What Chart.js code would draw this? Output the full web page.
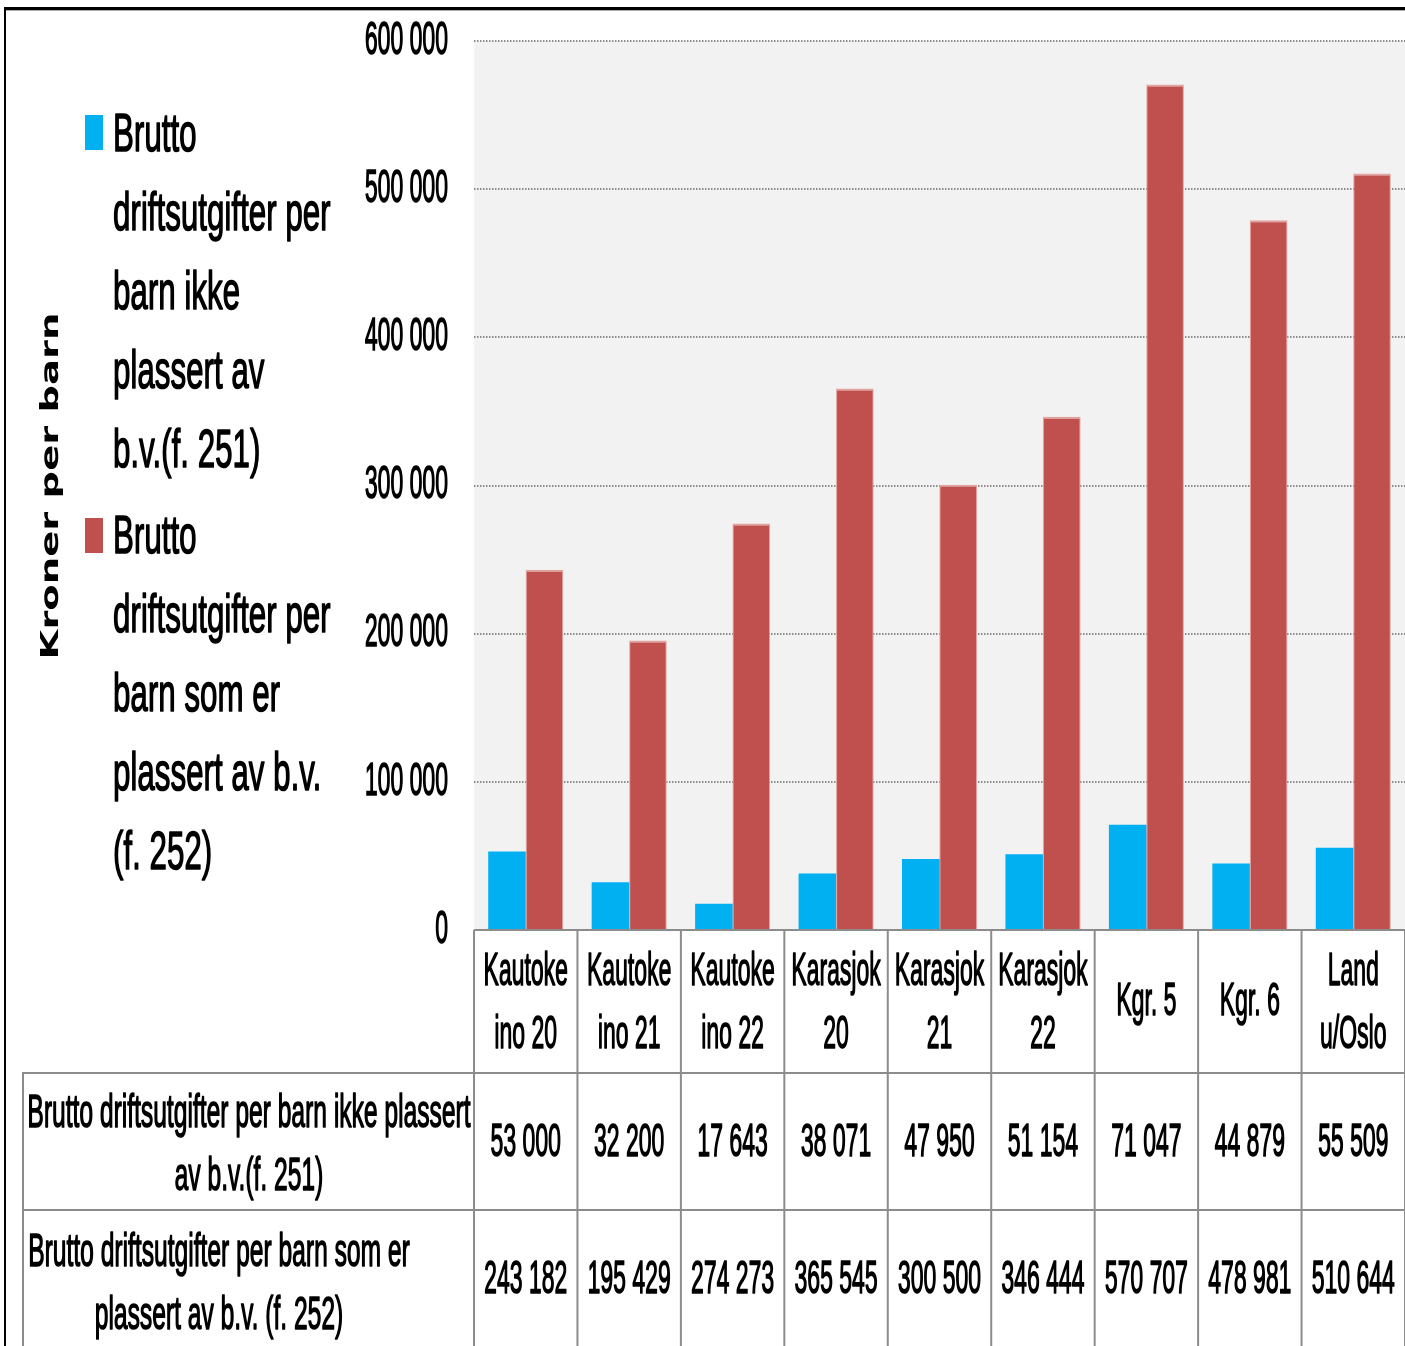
<!DOCTYPE html>
<html>
<head>
<meta charset="utf-8">
<script src="https://cdn.jsdelivr.net/npm/chart.js@4"></script>
<style>
html, body { margin: 0; padding: 0; background: #fff; overflow: hidden; }
/* the original chart is squeezed horizontally, so draw it twice as wide and scale it down */
#wrap { width: 2810px; height: 1346px; transform: scaleX(0.5); transform-origin: 0 0; }
</style>
</head>
<body>
<div id="wrap"><canvas id="chart" width="2810" height="1346"></canvas></div>
<script>
const categories = [
    ["Kautoke", "ino 20"], ["Kautoke", "ino 21"], ["Kautoke", "ino 22"],
    ["Karasjok", "20"], ["Karasjok", "21"], ["Karasjok", "22"],
    ["Kgr. 5"], ["Kgr. 6"], ["Land", "u/Oslo"]
];
const ikkePlassert = [53000, 32200, 17643, 38071, 47950, 51154, 71047, 44879, 55509];
const plassert = [243182, 195429, 274273, 365545, 300500, 346444, 570707, 478981, 510644];
const yTicks = [0, 100000, 200000, 300000, 400000, 500000, 600000];

const seriesNames = [
    "Brutto driftsutgifter per barn ikke plassert av b.v.(f. 251)",
    "Brutto driftsutgifter per barn som er plassert av b.v. (f. 252)"
];
const legendLines = [
    ["Brutto", "driftsutgifter per", "barn ikke", "plassert av", "b.v.(f. 251)"],
    ["Brutto", "driftsutgifter per", "barn som er", "plassert av b.v.", "(f. 252)"]
];
const rowHeaders = [
    ["Brutto driftsutgifter per barn ikke plassert", "av b.v.(f. 251)"],
    ["Brutto driftsutgifter per barn som er", "plassert av b.v. (f. 252)"]
];
const colors = ["#00b0f0", "#c0504d"];
const yTitle = "Kroner per barn";

const FONT = "'Liberation Sans', Arial, sans-serif";
const STROKE = 1.5; // text looks heavier in the original

function fmt(v) {
    return String(v).replace(/\B(?=(\d{3})+(?!\d))/g, " ");
}

function txt(ctx, s, x, y, size, align, sx) {
    ctx.save();
    ctx.translate(x, y);
    ctx.scale(sx || 1, 1);
    ctx.font = size + "px " + FONT;
    ctx.textAlign = align;
    ctx.textBaseline = "alphabetic";
    ctx.fillStyle = "#000";
    ctx.strokeStyle = "#000";
    ctx.lineWidth = STROKE;
    ctx.lineJoin = "round";
    ctx.strokeText(s, 0, 0);
    ctx.fillText(s, 0, 0);
    ctx.restore();
}

// grey plot background
const plotBg = {
    id: "plotBg",
    beforeDraw(chart) {
        const { ctx, chartArea: a } = chart;
        ctx.save();
        ctx.fillStyle = "#f2f2f2";
        ctx.fillRect(a.left, a.top, a.right - a.left, a.bottom - a.top);
        ctx.restore();
    }
};

// legend, axis title, data table and frame
const extras = {
    id: "extras",
    afterDraw(chart) {
        const { ctx, chartArea: a } = chart;
        const xs = chart.scales.x;
        const H = chart.height;

        // legend
        const tops = [115, 518];
        const bases = [151, 553];
        legendLines.forEach((lines, k) => {
            ctx.fillStyle = colors[k];
            ctx.fillRect(170, tops[k], 36, 35);
            lines.forEach((l, j) => txt(ctx, l, 226, bases[k] + j * 79, 54, "left", 1.16));
        });

        // y axis title
        ctx.save();
        ctx.translate(116, 486);
        ctx.rotate(-Math.PI / 2);
        ctx.scale(0.785, 1);
        ctx.font = "bold 49px 'DejaVu Sans', sans-serif";
        ctx.textAlign = "center";
        ctx.textBaseline = "alphabetic";
        ctx.fillStyle = "#000";
        ctx.fillText(yTitle, 0, 0);
        ctx.restore();

        // table grid
        const w = (a.right - a.left) / categories.length;
        ctx.fillStyle = "#8c8c8c";
        ctx.fillRect(a.left, a.bottom - 1, a.right - a.left, 2);
        ctx.fillRect(46, 1072, a.right - 46, 2);
        ctx.fillRect(46, 1209, a.right - 46, 2);
        ctx.fillRect(44, 1072, 4, H - 1072);
        for (let i = 0; i <= categories.length; i++) {
            ctx.fillRect(a.left + i * w - 2, a.bottom, 4, H - a.bottom);
        }

        // category labels
        categories.forEach((c, i) => {
            const cx = xs.getPixelForValue(i);
            if (c.length === 2) {
                txt(ctx, c[0], cx, 985, 46, "center");
                txt(ctx, c[1], cx, 1048, 46, "center");
            } else {
                txt(ctx, c[0], cx, 1015, 46, "center");
            }
        });

        // values
        ikkePlassert.forEach((v, i) => txt(ctx, fmt(v), xs.getPixelForValue(i), 1156, 46, "center"));
        plassert.forEach((v, i) => txt(ctx, fmt(v), xs.getPixelForValue(i), 1293, 46, "center"));

        // row headers
        txt(ctx, rowHeaders[0][0], 498, 1127, 46, "center", 1.07);
        txt(ctx, rowHeaders[0][1], 498, 1190, 46, "center", 1.07);
        txt(ctx, rowHeaders[1][0], 438, 1266, 46, "center", 1.07);
        txt(ctx, rowHeaders[1][1], 438, 1329, 46, "center", 1.07);

        // outer frame
        ctx.fillStyle = "#000";
        ctx.fillRect(8, 7, chart.width, 3);
        ctx.fillRect(8, 7, 4, H);
        ctx.fillStyle = "#aaa";
        ctx.fillRect(12, 10, chart.width, 1);
    }
};

new Chart(document.getElementById("chart"), {
    type: "bar",
    data: {
        labels: categories,
        datasets: [{
            label: seriesNames[0],
            data: ikkePlassert,
            backgroundColor: colors[0],
            borderWidth: 0
        }, {
            label: seriesNames[1],
            data: plassert,
            backgroundColor: colors[1],
            borderColor: "#e3a3a1",
            borderWidth: { top: 2, left: 2, right: 2, bottom: 0 }
        }]
    },
    options: {
        responsive: false,
        animation: false,
        layout: { padding: { top: 41, bottom: 416, left: 0, right: 0 } },
        datasets: { bar: { categoryPercentage: 0.725, barPercentage: 1 } },
        plugins: { legend: { display: false }, tooltip: { enabled: false } },
        scales: {
            x: { display: false },
            y: {
                min: 0,
                max: 600000,
                afterFit(s) {
                    s.width = 948;
                    s.paddingTop = 0;
                    s.paddingBottom = 0;
                },
                afterBuildTicks(s) { s.ticks = yTicks.map(v => ({ value: v })); },
                ticks: {
                    padding: 52,
                    color: "#000",
                    textStrokeColor: "#000",
                    textStrokeWidth: STROKE,
                    font: { family: FONT, size: 46 },
                    callback: v => fmt(v)
                },
                grid: { color: "#8c8c8c", lineWidth: 2, drawTicks: false },
                border: { display: false, dash: [3, 3] }
            }
        }
    },
    plugins: [plotBg, extras]
});
</script>
</body>
</html>
